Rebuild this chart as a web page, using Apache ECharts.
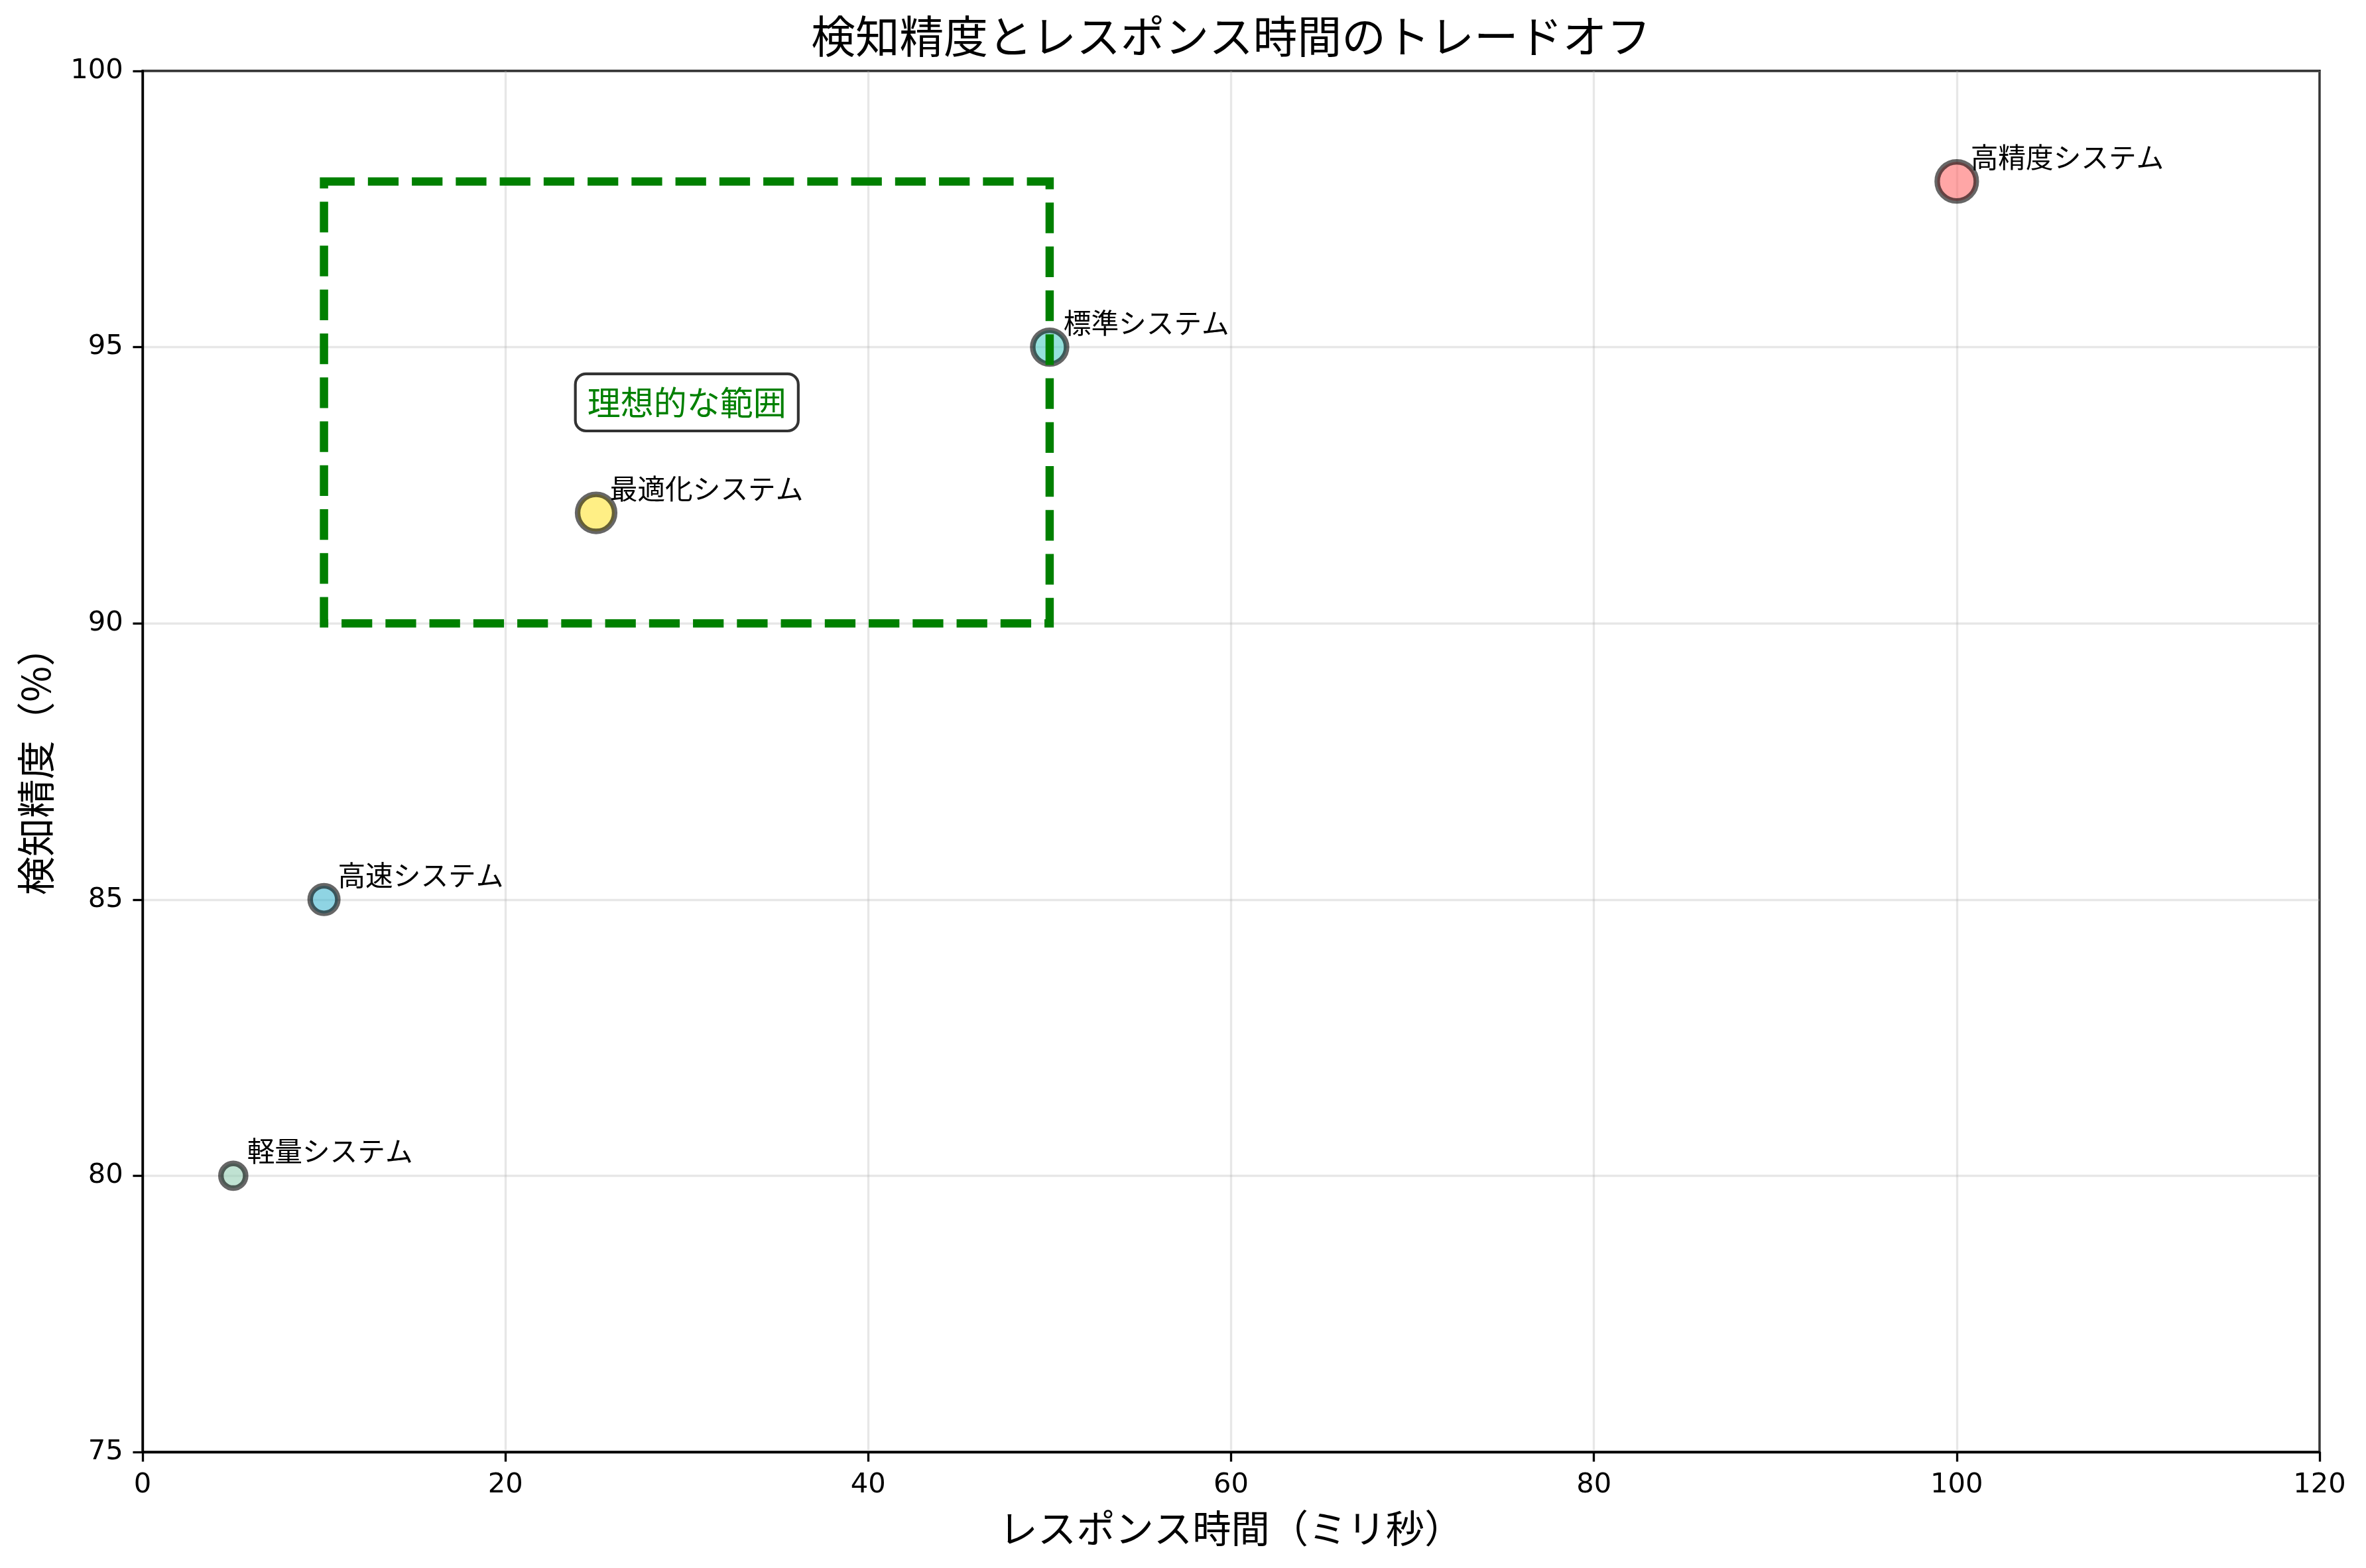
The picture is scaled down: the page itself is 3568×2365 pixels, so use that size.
<!DOCTYPE html>
<html>
<head>
<meta charset="utf-8">
<script src="https://cdn.jsdelivr.net/npm/echarts@6/dist/echarts.min.js"></script>
<style>
    html, body { margin: 0; padding: 0; background: #fff; }
    #chart-tradeoff { width: 3568px; height: 2365px; }
</style>
</head>
<body>
<div id="chart-tradeoff"></div>
<script>
"use strict";

// systems plotted
var systemNames = ['軽量システム', '高速システム', '最適化システム', '標準システム', '高精度システム'];
var responseTimes = [5, 10, 25, 50, 100];      // ms
var accuracies = [80, 85, 92, 95, 98];         // %
var markerAreas = [80, 100, 180, 150, 200];    // matplotlib s (pt^2)
var markerColors = ['#96CEB4', '#45B7D1', '#FFE433', '#4ECDC4', '#FF6B6B'];

// ideal range box
var idealTime = [10, 50];
var idealAccuracy = [90, 98];
var idealLabel = '理想的な範囲';

// axis ticks
var xTicks = [0, 20, 40, 60, 80, 100, 120];
var yTicks = [75, 80, 85, 90, 95, 100];

var PX = 300 / 72;  // points -> px
var jpFont = "'Noto Sans CJK JP', 'DejaVu Sans', sans-serif";
var numFont = "'DejaVu Sans', 'Noto Sans CJK JP', sans-serif";

var GRID = { left: 215, right: 70, top: 107, bottom: 175 };
var W = 3568;

function getChart(id){
    var dom = document.getElementById(id);
    return echarts.init(dom, null, { renderer: 'canvas' });
}

var chart = getChart('chart-tradeoff');

var points = responseTimes.map(function(t, i){
    return {
        name: systemNames[i],
        value: [t, accuracies[i]],
        symbolSize: Math.sqrt(markerAreas[i]) * PX,
        itemStyle: { color: markerColors[i] }
    };
});

var axisCommon = {
    axisLine: { show: true, onZero: false, lineStyle: { color: '#000', width: 0.8 * PX } },
    axisTick: { show: true, inside: false, length: 3.5 * PX, lineStyle: { color: '#000', width: 0.8 * PX } },
    splitLine: { show: true, lineStyle: { color: 'rgba(176,176,176,0.3)', width: 0.8 * PX } },
    nameTextStyle: { fontFamily: jpFont, fontSize: 14 * PX, color: '#000' }
};

var option = {
    animation: false,
    backgroundColor: '#fff',
    title: {
        text: '検知精度とレスポンス時間のトレードオフ',
        // matplotlib centres the title on the axes, not the canvas
        left: GRID.left + (W - GRID.left - GRID.right) / 2,
        textAlign: 'center',
        top: 21,
        padding: 0,
        textStyle: { fontFamily: jpFont, fontSize: 16 * PX, fontWeight: 'normal', color: '#000', lineHeight: 16 * PX }
    },
    grid: {
        left: GRID.left, right: GRID.right, top: GRID.top, bottom: GRID.bottom,
        show: true, borderColor: '#000', borderWidth: 0.8 * PX, backgroundColor: 'transparent'
    },
    xAxis: Object.assign({}, axisCommon, {
        type: 'value',
        min: xTicks[0], max: xTicks[xTicks.length - 1], interval: 20,
        name: 'レスポンス時間（ミリ秒）',
        nameLocation: 'middle',
        nameGap: 86,
        axisLabel: { margin: 7 * PX, fontFamily: numFont, fontSize: 10 * PX, color: '#000' }
    }),
    yAxis: Object.assign({}, axisCommon, {
        type: 'value',
        min: yTicks[0], max: yTicks[yTicks.length - 1], interval: 5,
        name: '検知精度（%）',
        nameLocation: 'middle',
        nameGap: 132,
        axisLabel: { margin: 7 * PX, fontFamily: numFont, fontSize: 10 * PX, color: '#000' }
    }),
    series: [
        {
            name: 'systems',
            type: 'scatter',
            z: 2,
            data: points,
            itemStyle: { borderColor: '#000', borderWidth: 2 * PX, opacity: 0.6 },
            label: {
                show: true,
                opacity: 1,
                position: 'inside',
                align: 'left',
                verticalAlign: 'bottom',
                offset: [5 * PX, -16],
                formatter: '{b}',
                fontFamily: jpFont,
                fontSize: 10 * PX,
                lineHeight: 10 * PX,
                color: '#000'
            },
            emphasis: { disabled: true }
        },
        {
            name: 'ideal',
            type: 'scatter',
            z: 10,
            data: [],
            markArea: {
                z: 10,
                silent: true,
                itemStyle: {
                    color: 'rgba(0,0,0,0)',
                    borderColor: '#008000',
                    borderWidth: 3 * PX,
                    borderType: [3.7 * 3 * PX, 1.6 * 3 * PX]
                },
                label: {
                    show: true,
                    position: 'inside',
                    formatter: idealLabel,
                    fontFamily: jpFont,
                    fontSize: 12 * PX,
                    lineHeight: 12 * PX,
                    color: '#008000',
                    backgroundColor: '#fff',
                    borderColor: 'rgba(0,0,0,0.8)',
                    borderWidth: 1 * PX,
                    borderRadius: 14,
                    padding: [16, 16, 16, 16]
                },
                data: [[
                    { coord: [idealTime[0], idealAccuracy[1]] },
                    { coord: [idealTime[1], idealAccuracy[0]] }
                ]]
            }
        }
    ]
};

if (option && typeof option === "object") {
    chart.setOption(option, true);
}
</script>
</body>
</html>
